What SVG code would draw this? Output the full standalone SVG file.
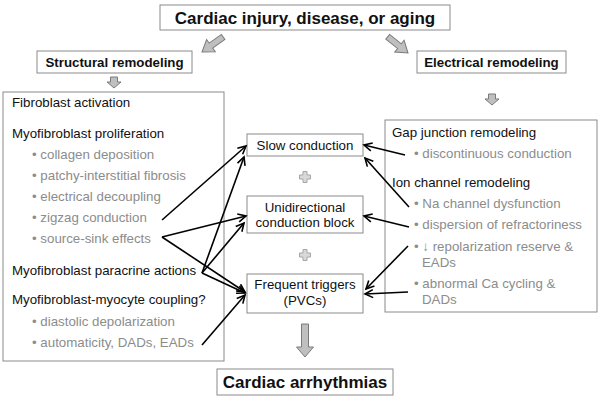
<svg xmlns="http://www.w3.org/2000/svg" width="601" height="400" viewBox="0 0 601 400">
<style>
text{font-family:"Liberation Sans",Arial,sans-serif;font-size:13.3px;fill:#111}
.b{font-weight:bold}
.big{font-size:17px;font-weight:bold}
.g{fill:#8c8c8c}
.m{text-anchor:middle}
.box{fill:#fff;stroke:#8a8a8a;stroke-width:1}
.blk{fill:#bfbfbf;stroke:#7a7a7a;stroke-width:1}
.plus{fill:#d9d9d9;stroke:#a6a6a6;stroke-width:1}
.c{fill:none;stroke:#000;stroke-width:1.6;marker-end:url(#ah)}
</style>
<defs>
<marker id="ah" markerUnits="userSpaceOnUse" markerWidth="12" markerHeight="12" refX="9" refY="5" orient="auto">
<path d="M1,1 L9,5 L1,9" fill="none" stroke="#000" stroke-width="1.6"/>
</marker>
<path id="plusShape" d="M-2,-5.5 H2 V-2 H5.5 V2 H2 V5.5 H-2 V2 H-5.5 V-2 H-2 Z"/>
</defs>

<g id="top">
<rect class="box" x="160" y="5" width="290" height="25"/>
<text class="big m" x="305" y="24">Cardiac injury, disease, or aging</text>
</g>
<g id="arrow-top-left"><path class="blk" transform="translate(202,52) rotate(54.5)" d="M-3,-26 H3 V-11 H7.5 L0,0 L-7.5,-11 H-3 Z"/></g>
<g id="arrow-top-right"><path class="blk" transform="translate(408,53) rotate(-51.3)" d="M-3,-26 H3 V-11 H7.5 L0,0 L-7.5,-11 H-3 Z"/></g>

<g id="structural">
<rect class="box" x="37" y="51" width="155" height="22"/>
<text class="b m" x="114.5" y="67">Structural remodeling</text>
</g>
<g id="electrical">
<rect class="box" x="417" y="51" width="149" height="22"/>
<text class="b m" x="491.5" y="67">Electrical remodeling</text>
</g>
<g id="arrow-structural"><path class="blk" transform="translate(114,88)" d="M-3.5,-11 H3.5 V-6 H7 L0,0 L-7,-6 H-3.5 Z"/></g>
<g id="arrow-electrical"><path class="blk" transform="translate(492,105)" d="M-3.5,-11 H3.5 V-6 H7 L0,0 L-7,-6 H-3.5 Z"/></g>

<g id="fibroblast">
<rect class="box" x="3" y="92" width="221" height="269"/>
<text x="12" y="107">Fibroblast activation</text>
<text x="12" y="138">Myofibroblast proliferation</text>
<text class="g" x="32" y="159">• collagen deposition</text>
<text class="g" x="32" y="180">• patchy-interstitial fibrosis</text>
<text class="g" x="32" y="201">• electrical decoupling</text>
<text class="g" x="32" y="222">• zigzag conduction</text>
<text class="g" x="32" y="243">• source-sink effects</text>
<text x="12" y="275">Myofibroblast paracrine actions</text>
<text x="12" y="304">Myofibroblast-myocyte coupling?</text>
<text class="g" x="32" y="326">• diastolic depolarization</text>
<text class="g" x="32" y="347">• automaticity, DADs, EADs</text>
</g>

<g id="electrical-detail">
<rect class="box" x="385" y="120" width="212" height="192"/>
<text x="392" y="137">Gap junction remodeling</text>
<text class="g" x="414" y="158">• discontinuous conduction</text>
<text x="392" y="187">Ion channel remodeling</text>
<text class="g" x="414" y="208">• Na channel dysfunction</text>
<text class="g" x="414" y="229">• dispersion of refractoriness</text>
<text class="g" x="414" y="251">• ↓ repolarization reserve &amp;</text>
<text class="g" x="422" y="267">EADs</text>
<text class="g" x="414" y="288">• abnormal Ca cycling &amp;</text>
<text class="g" x="422" y="304">DADs</text>
</g>

<g id="slow">
<rect class="box" x="247" y="134" width="116" height="22"/>
<text class="m" x="305" y="150">Slow conduction</text>
</g>
<g id="plus1"><use href="#plusShape" class="plus" x="305" y="177"/></g>
<g id="block">
<rect class="box" x="247" y="196" width="116" height="37"/>
<text class="m" x="305" y="212">Unidirectional</text>
<text class="m" x="305" y="227">conduction block</text>
</g>
<g id="plus2"><use href="#plusShape" class="plus" x="305" y="255"/></g>
<g id="triggers">
<rect class="box" x="247" y="274" width="116" height="39"/>
<text class="m" x="305" y="289">Frequent triggers</text>
<text class="m" x="305" y="305">(PVCs)</text>
</g>

<g id="arrow-final"><path class="blk" transform="translate(305,357)" d="M-3.5,-33 H3.5 V-10 H8.5 L0,0 L-8.5,-10 H-3.5 Z"/></g>
<g id="arrhythmias">
<rect class="box" x="217" y="369" width="176" height="26"/>
<text class="big m" x="305" y="388">Cardiac arrhythmias</text>
</g>

<g id="connectors">
<line class="c" x1="162" y1="220" x2="246" y2="146"/>
<line class="c" x1="202" y1="273" x2="244" y2="157"/>
<line class="c" x1="162" y1="237" x2="246" y2="216"/>
<line class="c" x1="202" y1="273" x2="244" y2="223"/>
<line class="c" x1="162" y1="237" x2="245" y2="292"/>
<line class="c" x1="202" y1="273" x2="245" y2="293"/>
<line class="c" x1="202" y1="345" x2="245" y2="295"/>
<line class="c" x1="405" y1="155" x2="364" y2="145"/>
<line class="c" x1="409" y1="207" x2="365" y2="158"/>
<line class="c" x1="409" y1="227" x2="364" y2="216"/>
<line class="c" x1="408" y1="246" x2="366" y2="289"/>
<line class="c" x1="408" y1="292" x2="365" y2="294"/>
</g>
</svg>
